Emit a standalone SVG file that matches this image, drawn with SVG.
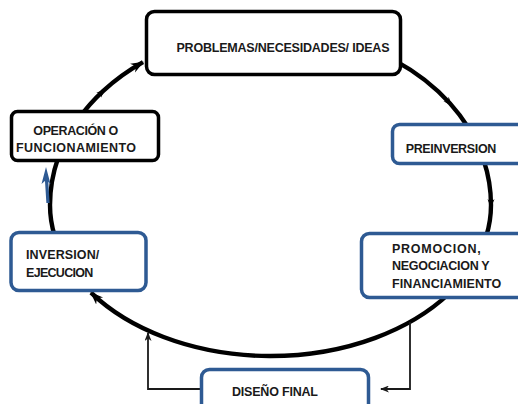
<svg xmlns="http://www.w3.org/2000/svg" width="518" height="404" viewBox="0 0 518 404">
<style>
.box{fill:#fff;stroke-width:3.5}
.k{stroke:#000}
.b{stroke:#2E5A93}
.lbl{font-family:"Liberation Sans",Arial,sans-serif;font-weight:bold;font-size:12.5px;fill:#1a1a1a}
.arc{fill:none;stroke:#000;stroke-width:4.4}
.thin{fill:none;stroke:#1a1a1a;stroke-width:1.8}
</style>
<defs>
<marker id="ah" markerUnits="userSpaceOnUse" markerWidth="14" markerHeight="12" refX="12" refY="6" orient="auto"><path d="M0,1 L13,6 L0,11 L4,6 z" fill="#000"/></marker>
<marker id="am" markerUnits="userSpaceOnUse" markerWidth="10" markerHeight="8" refX="6" refY="4" orient="auto"><path d="M0,0.5 L9,4 L0,7.5 L3,4 z" fill="#000"/></marker>
<marker id="at" markerUnits="userSpaceOnUse" markerWidth="9" markerHeight="7" refX="8" refY="3.5" orient="auto"><path d="M0,0 L9,3.5 L0,7 L2.5,3.5 z" fill="#1a1a1a"/></marker>
</defs>
<g id="connectors">
<path class="arc" d="M78 119.6 A220.5 175 0 0 1 103 91.2 A220.5 175 0 0 1 143 62.2" marker-mid="url(#am)" marker-end="url(#ah)"/>
<path class="arc" d="M395 60.6 A220.5 175 0 0 1 450 103.4 A220.5 175 0 0 1 468 127.2" marker-mid="url(#am)"/>
<path class="arc" d="M483.6 160 A220.5 175 0 0 1 491 205 A220.5 151 0 0 1 486.3 236" marker-mid="url(#am)"/>
<path class="arc" d="M448.6 294 A220.5 151 0 0 1 91 292.7" marker-end="url(#ah)"/>
<path class="arc" d="M54.7 236 A220.5 151 0 0 1 50 205 A220.5 175 0 0 1 58.1 158"/>
<path d="M48 203 L46.5 179" fill="none" stroke="#2E5A93" stroke-width="3.2"/>
<path d="M46 167 L50.5 184 L46 180 L41.5 184 z" fill="#2E5A93"/>
<path class="thin" d="M410 322 V389 H381" marker-end="url(#at)"/>
<path class="thin" d="M201 389 H148 V333" marker-end="url(#at)"/>
</g>
<g id="node-problemas">
<rect class="box k" x="146.5" y="11.5" width="254" height="63" rx="8"/>
<text class="lbl" x="176.5" y="52" textLength="213" lengthAdjust="spacing">PROBLEMAS/NECESIDADES/ IDEAS</text>
</g>
<g id="node-operacion">
<rect class="box k" x="11.5" y="111.5" width="147" height="49" rx="6"/>
<text class="lbl" x="33.3" y="135" textLength="85" lengthAdjust="spacing">OPERACIÓN O</text>
<text class="lbl" x="16" y="152" textLength="120" lengthAdjust="spacing">FUNCIONAMIENTO</text>
</g>
<g id="node-preinversion">
<rect class="box b" x="392.5" y="124.5" width="150" height="39" rx="7"/>
<text class="lbl" x="405.7" y="152.5" textLength="90.6" lengthAdjust="spacing">PREINVERSION</text>
</g>
<g id="node-promocion">
<rect class="box b" x="361.5" y="233.5" width="180" height="64" rx="8"/>
<text class="lbl" x="392" y="252.5" textLength="88.7" lengthAdjust="spacing">PROMOCION,</text>
<text class="lbl" x="392" y="270" textLength="97.7" lengthAdjust="spacing">NEGOCIACION Y</text>
<text class="lbl" x="392" y="288" textLength="109.3" lengthAdjust="spacing">FINANCIAMIENTO</text>
</g>
<g id="node-inversion">
<rect class="box b" x="11" y="232.5" width="135" height="58" rx="8"/>
<text class="lbl" x="26" y="259" textLength="73.3" lengthAdjust="spacing">INVERSION/</text>
<text class="lbl" x="26" y="277" textLength="67.3" lengthAdjust="spacing">EJECUCION</text>
</g>
<g id="node-diseno">
<rect class="box b" x="201.5" y="369.5" width="167" height="50" rx="8"/>
<text class="lbl" x="232" y="396" textLength="86" lengthAdjust="spacing">DISEÑO FINAL</text>
</g>
</svg>
